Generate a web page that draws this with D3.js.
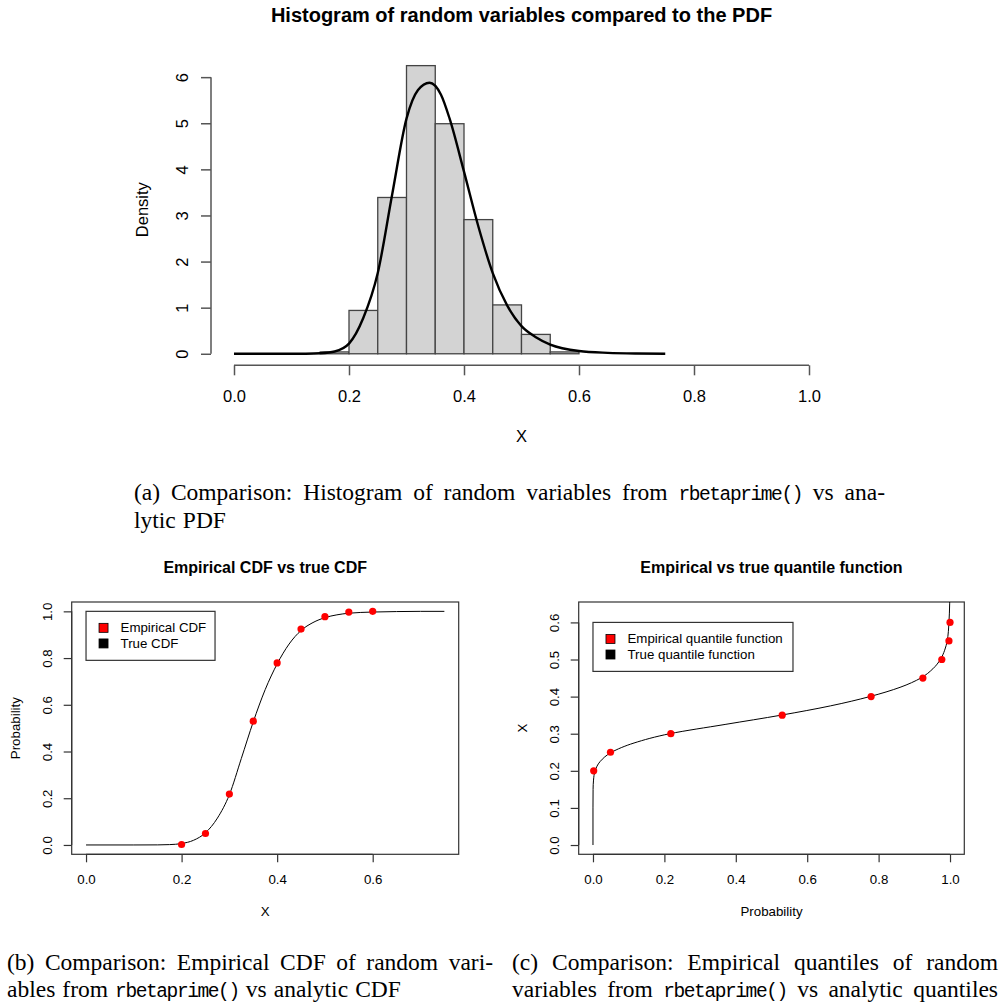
<!DOCTYPE html>
<html>
<head>
<meta charset="utf-8">
<script src="https://cdn.jsdelivr.net/npm/d3@7"></script>
<style>
  body { margin: 0; background: #fff; }
  text { font-family: "Liberation Sans", Arial, sans-serif; fill: #000; }
</style>
</head>
<body>
<svg id="fig"></svg>
<script>
// histogram of the random draws (bin edges + density per bin)
const binEdges = [0.15, 0.20, 0.25, 0.30, 0.35, 0.40, 0.45, 0.50, 0.55, 0.60];
const binDensity = [0.04, 0.94, 3.39, 6.25, 4.99, 2.91, 1.06, 0.42, 0.04];

// analytic pdf
const pdfX = [0, 0.05, 0.10, 0.125, 0.15, 0.175, 0.20, 0.225, 0.25, 0.275, 0.30, 0.32, 0.34, 0.36, 0.375, 0.40, 0.425, 0.45, 0.475, 0.50, 0.525, 0.55, 0.60, 0.65, 0.70, 0.75];
const pdfY = [0, 0, 0, 0.002, 0.012, 0.05, 0.22, 0.78, 1.75, 3.45, 5.10, 5.72, 5.88, 5.62, 5.10, 3.95, 2.76, 1.75, 1.05, 0.60, 0.36, 0.20, 0.06, 0.02, 0.006, 0.002];

// analytic cdf
const cdfX = [0, 0.10, 0.15, 0.175, 0.20, 0.225, 0.25, 0.275, 0.30, 0.325, 0.35, 0.375, 0.40, 0.425, 0.45, 0.475, 0.50, 0.525, 0.55, 0.60, 0.65, 0.70, 0.75];
const cdfY = [0, 0, 0.0003, 0.0015, 0.006, 0.02, 0.052, 0.115, 0.215, 0.37, 0.527, 0.665, 0.775, 0.86, 0.918, 0.952, 0.973, 0.985, 0.992, 0.997, 0.999, 1.0, 1.0];

// empirical points
const empX = [0.20, 0.25, 0.30, 0.35, 0.40, 0.45, 0.50, 0.55, 0.60];
const empP = [0.002, 0.049, 0.218, 0.53, 0.779, 0.924, 0.977, 0.997, 1.0];

const topXTicks = [0, 0.2, 0.4, 0.6, 0.8, 1.0];
const topYTicks = [0, 1, 2, 3, 4, 5, 6];
const cdfXTicks = [0, 0.2, 0.4, 0.6];
const probTicks = [0, 0.2, 0.4, 0.6, 0.8, 1.0];
const quantTicks = [0, 0.1, 0.2, 0.3, 0.4, 0.5, 0.6];

const W = 1004, H = 1007;
const svg = d3.select("#fig").attr("width", W).attr("height", H);
svg.append("rect").attr("width", W).attr("height", H).attr("fill", "#fff");

const fmt1 = d3.format(".1f");

// ---------- top: histogram vs pdf ----------
const topFont = 16.5;
const x1 = d3.scaleLinear().domain([-0.04, 1.04]).range([211, 832]);
const y1 = d3.scaleLinear().domain([-0.25, 6.5]).range([365.3, 54.1]);

svg.append("g")
  .selectAll("rect")
  .data(binDensity)
  .join("rect")
  .attr("x", (d, i) => x1(binEdges[i]))
  .attr("width", (d, i) => x1(binEdges[i + 1]) - x1(binEdges[i]))
  .attr("y", d => y1(d))
  .attr("height", d => y1(0) - y1(d))
  .attr("fill", "#d3d3d3")
  .attr("stroke", "#444")
  .attr("stroke-width", 1.3);

svg.append("path")
  .datum(pdfX.map((x, i) => [x, pdfY[i]]))
  .attr("fill", "none")
  .attr("stroke", "#000")
  .attr("stroke-width", 2.4)
  .attr("d", d3.line().x(d => x1(d[0])).y(d => y1(d[1])).curve(d3.curveMonotoneX));

const gx1 = svg.append("g")
  .attr("transform", `translate(0,${y1.range()[0]})`)
  .call(d3.axisBottom(x1).tickValues(topXTicks).tickFormat(fmt1).tickSize(10).tickPadding(0).tickSizeOuter(0));
gx1.select(".domain").attr("d", `M${x1(0)},0H${x1(1)}`);
gx1.selectAll("line, path").attr("stroke", "#555").attr("stroke-width", 1.5);
gx1.selectAll(".tick text").attr("y", 31).attr("dy", null)
  .attr("dominant-baseline", "central").attr("font-size", topFont);

const gy1 = svg.append("g")
  .attr("transform", `translate(${x1.range()[0]},0)`)
  .call(d3.axisLeft(y1).tickValues(topYTicks).tickFormat(d3.format("d")).tickSize(10).tickSizeOuter(0));
gy1.select(".domain").attr("d", `M0,${y1(0)}V${y1(6)}`);
gy1.selectAll("line, path").attr("stroke", "#555").attr("stroke-width", 1.5);
gy1.selectAll(".tick text")
  .attr("x", null).attr("dy", null)
  .attr("text-anchor", "middle").attr("dominant-baseline", "central")
  .attr("font-size", topFont)
  .attr("transform", "translate(-29,0) rotate(-90)");

svg.append("text").attr("x", 521.5).attr("y", 14.5)
  .attr("text-anchor", "middle").attr("dominant-baseline", "central")
  .attr("font-weight", "bold").attr("font-size", 20)
  .text("Histogram of random variables compared to the PDF");
svg.append("text").attr("x", 521.5).attr("y", 436)
  .attr("text-anchor", "middle").attr("dominant-baseline", "central")
  .attr("font-size", topFont).text("X");
svg.append("text")
  .attr("transform", "translate(141.7,209.7) rotate(-90)")
  .attr("text-anchor", "middle").attr("dominant-baseline", "central")
  .attr("font-size", topFont).text("Density");

// ---------- bottom panels ----------
const botFont = 13.3;

function panel(opts) {
  const { xs, ys, xTicks, yTicks, title, xLabel, yLabel, clipId } = opts;
  const g = svg.append("g");
  const [L, R] = xs.range();
  const [B, T] = ys.range();
  const cx = (L + R) / 2, cy = (B + T) / 2;

  svg.append("clipPath").attr("id", clipId)
    .append("rect").attr("x", L).attr("y", T).attr("width", R - L).attr("height", B - T);

  const gx = g.append("g").attr("transform", `translate(0,${B})`)
    .call(d3.axisBottom(xs).tickValues(xTicks).tickFormat(fmt1).tickSize(8).tickSizeOuter(0));
  gx.select(".domain").attr("d", `M${xs(xTicks[0])},0H${xs(xTicks[xTicks.length - 1])}`);
  gx.selectAll("line, path").attr("stroke", "#333").attr("stroke-width", 1.2);
  gx.selectAll(".tick text").attr("y", 25).attr("dy", null)
    .attr("dominant-baseline", "central").attr("font-size", botFont);

  const gy = g.append("g").attr("transform", `translate(${L},0)`)
    .call(d3.axisLeft(ys).tickValues(yTicks).tickFormat(fmt1).tickSize(8).tickSizeOuter(0));
  gy.select(".domain").attr("d", `M0,${ys(yTicks[0])}V${ys(yTicks[yTicks.length - 1])}`);
  gy.selectAll("line, path").attr("stroke", "#333").attr("stroke-width", 1.2);
  gy.selectAll(".tick text")
    .attr("x", null).attr("dy", null)
    .attr("text-anchor", "middle").attr("dominant-baseline", "central")
    .attr("font-size", botFont)
    .attr("transform", "translate(-24,0) rotate(-90)");

  g.append("rect").attr("x", L).attr("y", T).attr("width", R - L).attr("height", B - T)
    .attr("fill", "none").attr("stroke", "#333").attr("stroke-width", 1.2);

  g.append("text").attr("x", cx).attr("y", 567)
    .attr("text-anchor", "middle").attr("dominant-baseline", "central")
    .attr("font-weight", "bold").attr("font-size", 16).text(title);
  g.append("text").attr("x", cx).attr("y", 911.7)
    .attr("text-anchor", "middle").attr("dominant-baseline", "central")
    .attr("font-size", botFont).text(xLabel);
  g.append("text").attr("transform", `translate(${L - 56.7},${cy}) rotate(-90)`)
    .attr("text-anchor", "middle").attr("dominant-baseline", "central")
    .attr("font-size", botFont).text(yLabel);
  return g;
}

function legend(g, x, y, w, labels) {
  const rowH = 15.6;
  g.append("rect").attr("x", x).attr("y", y).attr("width", w).attr("height", 49)
    .attr("fill", "#fff").attr("stroke", "#333").attr("stroke-width", 1.2);
  const items = g.selectAll(".leg").data(labels).join("g")
    .attr("transform", (d, i) => `translate(${x},${y + 16.5 + i * rowH})`);
  items.append("rect").attr("x", 13).attr("y", -4.5).attr("width", 9).attr("height", 9)
    .attr("fill", d => d.color).attr("stroke", "#000").attr("stroke-width", 0.8);
  items.append("text").attr("x", 34.5).attr("dominant-baseline", "central")
    .attr("font-size", botFont).text(d => d.label);
}

// (b) empirical vs true cdf
const bx1 = d3.scaleLinear().domain([-0.03, 0.78]).range([71.7, 458.7]);
const by1 = d3.scaleLinear().domain([-0.04, 1.04]).range([854.3, 602]);
const gB = panel({ xs: bx1, ys: by1, xTicks: cdfXTicks, yTicks: probTicks,
  title: "Empirical CDF vs true CDF", xLabel: "X", yLabel: "Probability", clipId: "clipB" });

gB.append("path")
  .datum(cdfX.map((x, i) => [x, cdfY[i]]))
  .attr("clip-path", "url(#clipB)")
  .attr("fill", "none").attr("stroke", "#000").attr("stroke-width", 1)
  .attr("d", d3.line().x(d => bx1(d[0])).y(d => by1(d[1])).curve(d3.curveMonotoneX));

gB.selectAll(".pt").data(empX).join("circle")
  .attr("cx", d => bx1(d)).attr("cy", (d, i) => by1(empP[i])).attr("r", 3.6)
  .attr("fill", "#ff0000");

legend(gB, bx1(0), by1(1), 129, [
  { label: "Empirical CDF", color: "#ff0000" },
  { label: "True CDF", color: "#000" }
]);

// (c) empirical vs true quantile function
const bx2 = d3.scaleLinear().domain([-0.04, 1.04]).range([578.7, 964.3]);
const by2 = d3.scaleLinear().domain([-0.025, 0.655]).range([854.3, 602]);
const gC = panel({ xs: bx2, ys: by2, xTicks: probTicks, yTicks: quantTicks,
  title: "Empirical vs true quantile function", xLabel: "Probability", yLabel: "X", clipId: "clipC" });

gC.append("path")
  .datum(cdfX.map((x, i) => [cdfY[i], x]))
  .attr("clip-path", "url(#clipC)")
  .attr("fill", "none").attr("stroke", "#000").attr("stroke-width", 1)
  .attr("d", d3.line().x(d => bx2(d[0])).y(d => by2(d[1])).curve(d3.curveMonotoneY));

gC.selectAll(".pt").data(empX).join("circle")
  .attr("cx", (d, i) => bx2(empP[i])).attr("cy", d => by2(d)).attr("r", 3.6)
  .attr("fill", "#ff0000");

legend(gC, bx2(0), by2(0.6), 200, [
  { label: "Empirical quantile function", color: "#ff0000" },
  { label: "True quantile function", color: "#000" }
]);

// ---------- captions (LaTeX style, justified) ----------
const serif = "'Liberation Serif', 'Times New Roman', serif";
const mono = "'Liberation Mono', 'Courier New', monospace";
const capSize = 23.5, monoSize = 19.5;

function captionLine(str, x, baseline, width) {
  const g = svg.append("g");
  const words = str.split(" ").map(w => {
    const isMono = w.startsWith("`");
    const t = g.append("text").attr("y", baseline)
      .style("font-family", isMono ? mono : serif)
      .style("letter-spacing", isMono ? "-1.4px" : null)
      .attr("font-size", isMono ? monoSize : capSize)
      .text(isMono ? w.replace(/`/g, "") : w);
    return { t, w: t.node().getComputedTextLength() };
  });
  const total = d3.sum(words, d => d.w);
  const gap = width ? (width - total) / (words.length - 1) : capSize * 0.3;
  let cx = x;
  words.forEach(d => { d.t.attr("x", cx); cx += d.w + gap; });
}

captionLine("(a) Comparison: Histogram of random variables from `rbetaprime()` vs ana-", 134, 500, 751);
captionLine("lytic PDF", 134, 527.5, null);
captionLine("(b) Comparison: Empirical CDF of random vari-", 7, 970, 486);
captionLine("ables from `rbetaprime()` vs analytic CDF", 7, 997, null);
captionLine("(c) Comparison: Empirical quantiles of random", 512, 970, 486);
captionLine("variables from `rbetaprime()` vs analytic quantiles", 512, 997, 486);
</script>
</body>
</html>
